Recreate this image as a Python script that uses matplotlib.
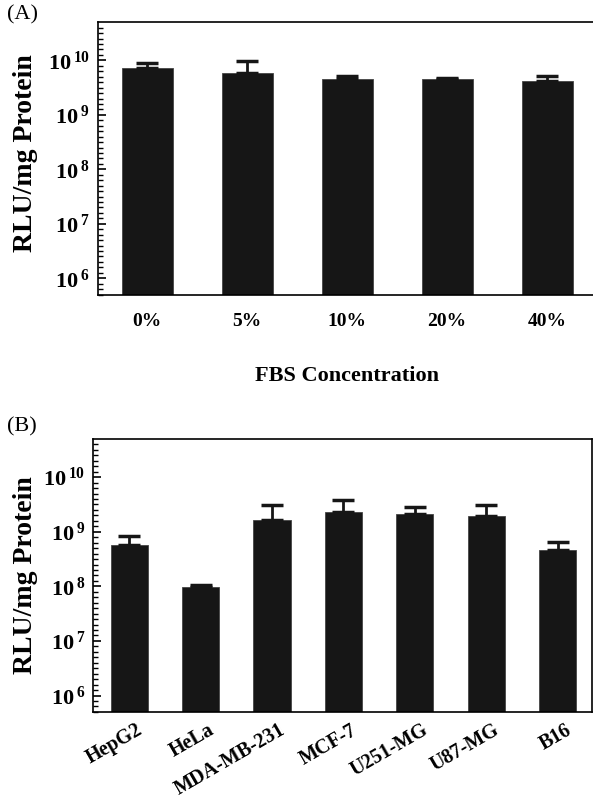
import numpy as np
import matplotlib
matplotlib.use("Agg")
import matplotlib.pyplot as plt
from matplotlib.transforms import ScaledTranslation

plt.rcParams['font.family'] = ['Liberation Serif', 'DejaVu Serif']
plt.rcParams['font.weight'] = 'bold'
plt.rcParams['axes.labelweight'] = 'bold'

# Panel A: FBS concentration
fbs = ['0%', '5%', '10%', '20%', '40%']
fbs_rlu = [7.3e9, 5.9e9, 4.5e9, 4.46e9, 4.27e9]
fbs_err = [1.6e9, 3.7e9, 0.6e9, 0.26e9, 1.0e9]

# Panel B: cell lines
cells = ['HepG2', 'HeLa', 'MDA-MB-231', 'MCF-7', 'U251-MG', 'U87-MG', 'B16']
cell_rlu = [5.7e8, 9.9e7, 1.67e9, 2.27e9, 2.14e9, 1.97e9, 4.7e8]
cell_err = [2.6e8, 0.7e7, 1.43e9, 1.48e9, 0.66e9, 1.13e9, 1.9e8]

yticks = [1e6, 1e7, 1e8, 1e9, 1e10]
ylabels = [r'$\mathregular{10^{\,6}}$', r'$\mathregular{10^{\,7}}$', r'$\mathregular{10^{\,8}}$',
           r'$\mathregular{10^{\,9}}$', r'$\mathregular{10^{\,10}}$']

barcol = '#161616'

fig = plt.figure(figsize=(5.93, 7.99), dpi=100)
axA = fig.add_axes([0.1653, 0.6312, 0.8398, 0.3409])
axB = fig.add_axes([0.1575, 0.1089, 0.8408, 0.3417])


def style(ax):
    ax.set_yscale('log')
    ax.set_ylim(5e5, 5e10)
    ax.set_yticks(yticks)
    ax.set_yticklabels(ylabels, fontsize=16)
    ax.set_yticks([10 ** (k / 10) for k in range(57, 107) if k % 10 != 0], minor=True)
    ax.yaxis.set_minor_formatter(plt.NullFormatter())
    ax.tick_params(axis='y', which='major', direction='in', length=6, width=1.2, pad=6)
    ax.tick_params(axis='y', which='minor', direction='in', length=3.5, width=1)
    ax.tick_params(axis='x', length=0)
    for s in ax.spines.values():
        s.set_linewidth(1.2)
    ax.set_ylabel('RLU/mg Protein', fontsize=20, fontweight='bold')


# (A)
xa = np.arange(len(fbs))
axA.bar(xa, fbs_rlu, width=0.51, bottom=1e5, color=barcol, edgecolor='#444444', linewidth=0.6)
axA.errorbar(xa, fbs_rlu, yerr=[np.zeros(len(fbs)), fbs_err], fmt='none',
             ecolor=barcol, elinewidth=2, capsize=8, capthick=2.5)
style(axA)
axA.set_xlim(-0.49, 4.49)
axA.set_xticks(xa)
axA.set_xticklabels(fbs, fontsize=14)
axA.tick_params(axis='x', pad=13)
axA.set_xlabel('FBS Concentration', fontsize=16, fontweight='bold', labelpad=26)
axA.yaxis.set_label_coords(-0.121, 0.52)

# (B)
xb = np.arange(len(cells))
axB.bar(xb, cell_rlu, width=0.52, bottom=1e5, color=barcol, edgecolor='#444444', linewidth=0.6)
axB.errorbar(xb, cell_rlu, yerr=[np.zeros(len(cells)), cell_err], fmt='none',
             ecolor=barcol, elinewidth=2, capsize=8, capthick=2.5)
style(axB)
axB.set_xlim(-0.5, 6.48)
axB.set_xticks(xb)
axB.set_xticklabels(cells, fontsize=14.5, rotation=30, ha='right')
axB.tick_params(axis='x', pad=6)
off = ScaledTranslation(0.17, 0, fig.dpi_scale_trans)
for lab in axB.get_xticklabels():
    lab.set_transform(lab.get_transform() + off)
axB.yaxis.set_label_coords(-0.111, 0.5)

fig.text(7 / 593, 1 - 15 / 799, '(A)', fontsize=16, fontweight='normal', va='center')
fig.text(7 / 593, 1 - 427 / 799, '(B)', fontsize=16, fontweight='normal', va='center')

fig.savefig('out.png', dpi=100)
